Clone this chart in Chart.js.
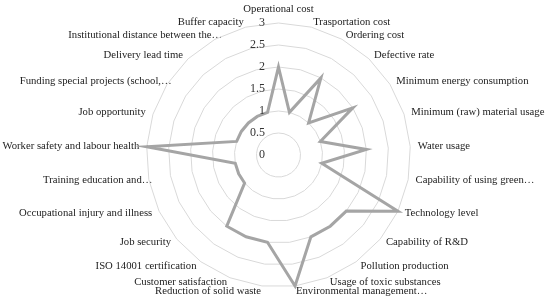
<!DOCTYPE html>
<html>
<head>
<meta charset="utf-8">
<script src="https://cdn.jsdelivr.net/npm/chart.js@4"></script>
<style>
  html, body { margin: 0; padding: 0; background: #fff; }
  #wrap { width: 550px; height: 305px; }
</style>
</head>
<body>
<div id="wrap"><canvas id="radarChart"></canvas></div>
<script>
const criteria = [
    'Operational cost',
    'Trasportation cost',
    'Ordering cost',
    'Defective rate',
    'Minimum energy consumption',
    'Minimum (raw) material usage',
    'Water usage',
    'Capability of using green\u2026',
    'Technology level',
    'Capability of R&D',
    'Pollution production',
    'Usage of toxic substances',
    'Environmental management\u2026',
    'Reduction of solid waste',
    'Customer satisfaction',
    'ISO 14001 certification',
    'Job security',
    'Occupational injury and illness',
    'Training education and\u2026',
    'Worker safety and labour health',
    'Job opportunity',
    'Funding special projects (school,\u2026',
    'Delivery lead time',
    'Institutional distance between the\u2026',
    'Buffer capacity'
];

const scores = [2, 1, 2, 1, 2, 1, 2, 1, 3, 2, 2, 2, 3, 2, 2, 2, 1, 1, 1, 3, 1, 1, 1, 1, 1];

const tickValues = [0, 0.5, 1, 1.5, 2, 2.5, 3];
const tickLabels = ['0', '0.5', '1', '1.5', '2', '2.5', '3'];

// plot geometry, taken from the excel original
const CENTER_X = 278.5;
const CENTER_Y = 155;
const RADIUS = 132;

// excel puts the radar at a fixed spot and centres the labels on their spoke,
// so override what chart.js worked out in fit()
function placeRadar(scale) {
    scale.xCenter = CENTER_X;
    scale.yCenter = CENTER_Y;
    scale.drawingArea = RADIUS;
    const items = scale._pointLabelItems || [];
    items.forEach((item, i) => {
        const h = item.bottom - item.top;
        const w = item.right - item.left;
        const angle = scale.getIndexAngle(i);
        let x = CENTER_X + Math.sin(angle) * (RADIUS + 7.5);
        let yMid = CENTER_Y - Math.cos(angle) * (RADIUS + 5);
        if (item.textAlign === 'center' && Math.cos(angle) > 0) {
            yMid = CENTER_Y - RADIUS - 7 - h / 2;
        }
        // truncated labels on the left sit closer in (excel keeps a wider box)
        if (item.textAlign === 'right' && criteria[i].endsWith('\u2026')) {
            x += 11;
        }
        item.x = x;
        item.y = yMid - h / 2;
        item.top = item.y;
        item.bottom = item.y + h;
        if (item.textAlign === 'left') item.left = x;
        else if (item.textAlign === 'right') item.left = x - w;
        else item.left = x - w / 2;
        item.right = item.left + w;
    });
}

// tick labels sit left of the vertical axis, like the excel original
const tickLabelPlugin = {
    id: 'tickLabels',
    afterDraw(chart) {
        const r = chart.scales.r;
        const ctx = chart.ctx;
        ctx.save();
        ctx.font = '12px "Liberation Serif"';
        ctx.fillStyle = '#333';
        ctx.textAlign = 'right';
        ctx.textBaseline = 'middle';
        for (let i = 0; i < tickValues.length; i++) {
            const y = r.yCenter - r.getDistanceFromCenterForValue(tickValues[i]);
            ctx.fillText(tickLabels[i], r.xCenter - 13.5, y);
        }
        ctx.restore();
    }
};

document.addEventListener('DOMContentLoaded', () => {
    const ctx = document.getElementById('radarChart').getContext('2d');
    new Chart(ctx, {
        type: 'radar',
        data: {
            labels: criteria,
            datasets: [{
                data: scores,
                fill: false,
                borderColor: '#a5a5a5',
                borderWidth: 3,
                pointRadius: 0,
                tension: 0
            }]
        },
        options: {
            responsive: true,
            maintainAspectRatio: false,
            animation: false,
            plugins: {
                legend: { display: false },
                tooltip: { enabled: false }
            },
            scales: {
                r: {
                    min: 0,
                    max: 3,
                    ticks: { stepSize: 0.5, display: false },
                    grid: { color: '#d9d9d9', lineWidth: 1 },
                    angleLines: { display: false },
                    pointLabels: {
                        color: '#222',
                        padding: 5,
                        font: { family: 'Liberation Serif', size: 10.7 }
                    },
                    afterFit: placeRadar
                }
            }
        },
        plugins: [tickLabelPlugin]
    });
});
</script>
</body>
</html>
